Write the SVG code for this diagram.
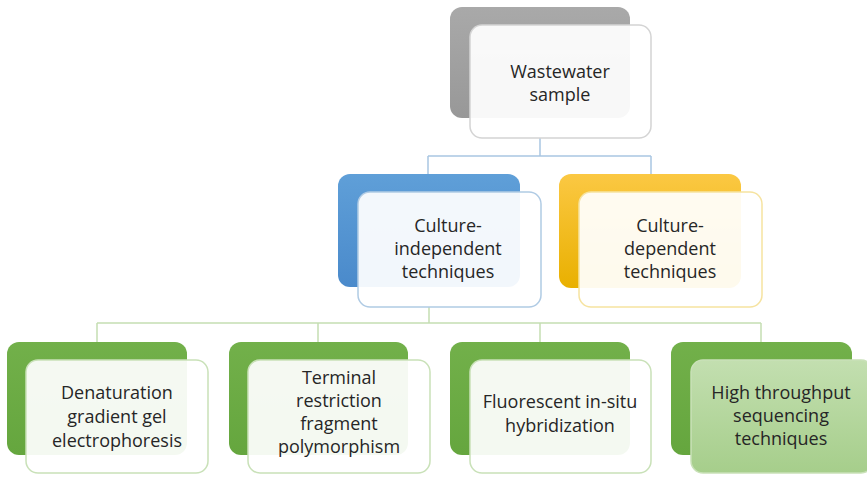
<svg xmlns="http://www.w3.org/2000/svg" width="867" height="477" viewBox="0 0 867 477">
<defs>
<linearGradient id="gGray" x1="0" y1="0" x2="0" y2="1"><stop offset="0" stop-color="#a9a9a9"/><stop offset="1" stop-color="#989898"/></linearGradient>
<linearGradient id="gBlue" x1="0" y1="0" x2="0" y2="1"><stop offset="0" stop-color="#5f9fd8"/><stop offset="1" stop-color="#4a8acb"/></linearGradient>
<linearGradient id="gYellow" x1="0" y1="0" x2="0" y2="1"><stop offset="0" stop-color="#fbc843"/><stop offset="1" stop-color="#e9b000"/></linearGradient>
<linearGradient id="gGreen" x1="0" y1="0" x2="0" y2="1"><stop offset="0" stop-color="#72b04a"/><stop offset="1" stop-color="#65a63e"/></linearGradient>
<linearGradient id="gLight" x1="0" y1="0" x2="0" y2="1"><stop offset="0" stop-color="#c3dfb0"/><stop offset="1" stop-color="#a6ce8b"/></linearGradient>
</defs>
<style>
.front{fill:#ffffff;fill-opacity:0.93;stroke-width:1.5}
.t{font-family:"Open Sans","Noto Sans","Liberation Sans",sans-serif;font-size:18px;fill:#262626;text-anchor:middle}
.cb{fill:none;stroke:#a9c6e2;stroke-width:1.5}
.cg{fill:none;stroke:#c5deb3;stroke-width:1.5}
</style>
<g id="connectors">
<path class="cb" d="M540 138 V156 M428 156 H651 M428 156 V174 M651 156 V174"/>
<path class="cg" d="M429 307 V323 M97 323 H761 M97 323 V342 M318 323 V342 M540 323 V342 M761 323 V342"/>
</g>
<g id="wastewater">
<rect x="450" y="7" width="180" height="111" rx="12" fill="url(#gGray)"/>
<rect class="front" x="470" y="25" width="181" height="113" rx="12" stroke="#d4d4d4"/>
<text class="t" x="560" y="78">Wastewater</text>
<text class="t" x="560" y="101">sample</text>
</g>
<g id="culture-independent">
<rect x="338" y="174" width="182" height="113" rx="12" fill="url(#gBlue)"/>
<rect class="front" x="358" y="192" width="183" height="115" rx="12" stroke="#b0cbe4"/>
<text class="t" x="448" y="232">Culture-</text>
<text class="t" x="448" y="255">independent</text>
<text class="t" x="448" y="278">techniques</text>
</g>
<g id="culture-dependent">
<rect x="559" y="174" width="182" height="114" rx="12" fill="url(#gYellow)"/>
<rect class="front" x="579" y="192" width="183" height="115" rx="12" stroke="#f6e3a0"/>
<text class="t" x="670" y="232">Culture-</text>
<text class="t" x="670" y="255">dependent</text>
<text class="t" x="670" y="278">techniques</text>
</g>
<g id="dgge">
<rect x="7" y="342" width="180" height="113" rx="12" fill="url(#gGreen)"/>
<rect class="front" x="26" y="360" width="182" height="113" rx="12" stroke="#c9e1b8"/>
<text class="t" x="117" y="399">Denaturation</text>
<text class="t" x="117" y="423">gradient gel</text>
<text class="t" x="117" y="447">electrophoresis</text>
</g>
<g id="trfp">
<rect x="229" y="342" width="179" height="113" rx="12" fill="url(#gGreen)"/>
<rect class="front" x="248" y="360" width="182" height="113" rx="12" stroke="#c9e1b8"/>
<text class="t" x="339" y="384">Terminal</text>
<text class="t" x="339" y="407">restriction</text>
<text class="t" x="339" y="430">fragment</text>
<text class="t" x="339" y="453">polymorphism</text>
</g>
<g id="fish">
<rect x="450" y="342" width="180" height="113" rx="12" fill="url(#gGreen)"/>
<rect class="front" x="470" y="360" width="181" height="113" rx="12" stroke="#c9e1b8"/>
<text class="t" x="560" y="408">Fluorescent in-situ</text>
<text class="t" x="560" y="432">hybridization</text>
</g>
<g id="hts">
<rect x="671" y="342" width="181" height="113" rx="12" fill="url(#gGreen)"/>
<rect x="691" y="360" width="182" height="113" rx="12" fill="url(#gLight)" stroke="#c9e1b8" stroke-width="1.5"/>
<text class="t" x="781" y="399">High throughput</text>
<text class="t" x="781" y="422">sequencing</text>
<text class="t" x="781" y="445">techniques</text>
</g>
</svg>
